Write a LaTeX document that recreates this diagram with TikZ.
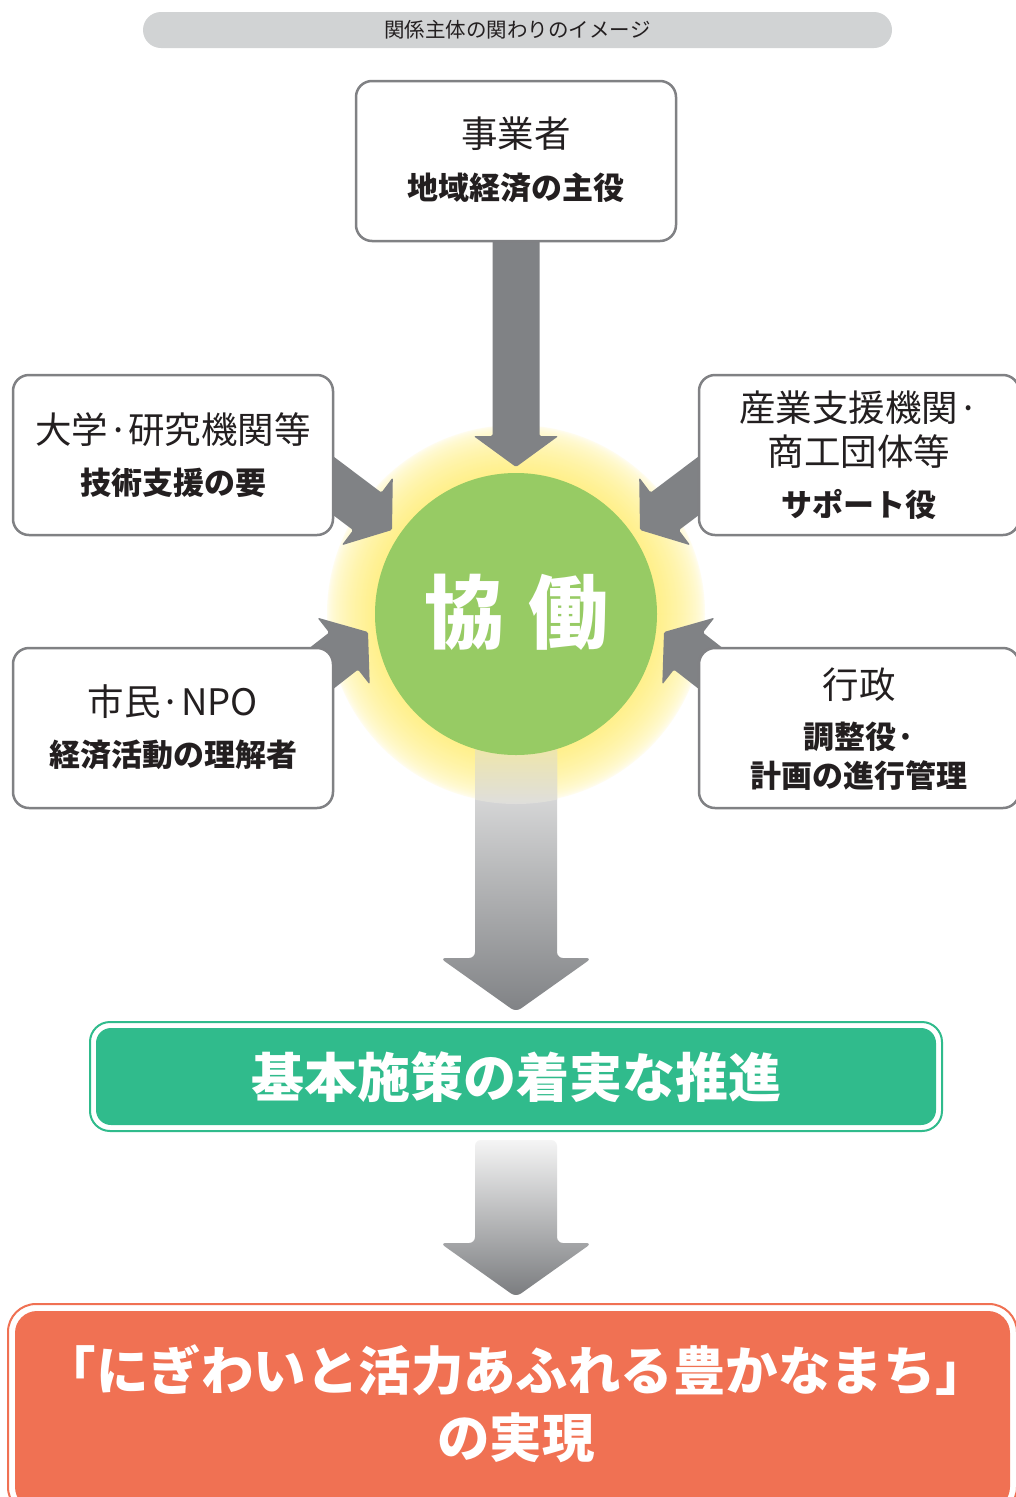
\documentclass[tikz,border=0pt]{standalone}
\usepackage{fontspec}
\setmainfont{Noto Sans CJK JP}
\usepackage{tikz}
\definecolor{txt}{HTML}{231F20}
\definecolor{boxgray}{HTML}{808184}
\definecolor{arrgray}{HTML}{808285}
\definecolor{pillgray}{HTML}{D1D3D4}
\definecolor{cgreen}{HTML}{97CB64}
\definecolor{glowy}{HTML}{FFF08C}
\definecolor{shafttint}{HTML}{EFE6A8}
\definecolor{bgreen}{HTML}{30BB8C}
\definecolor{borange}{HTML}{F07153}
\newcommand\blockarrow[3]{%
  \fill[arrgray, rounded corners=1.5pt, shift={(#1)}, rotate=#2] (0,0) -- (-31,42.5) -- (-31,23.5) -- (-#3,23.5) -- (-#3,-23.5) -- (-31,-23.5) -- (-31,-42.5) -- cycle;}
\begin{document}
\begin{tikzpicture}[x=1pt,y=-1pt,
  gbox/.style={draw=boxgray, line width=2.5pt, fill=white, rounded corners=16pt, minimum width=320pt, minimum height=160pt, inner sep=0pt},
  lt/.style={text=txt, inner sep=0pt, font=\fontsize{36.5}{44}\selectfont},
  bt/.style={text=txt, inner sep=0pt, font=\fontsize{31}{37}\selectfont\bfseries}]
\useasboundingbox (0,0) rectangle (1015,1497);
\fill[white] (0,0) rectangle (1015,1497);

% title pill
\node[fill=pillgray, rounded corners=18pt, minimum width=749pt, minimum height=36pt, inner sep=0pt, text=txt, font=\fontsize{20.5}{24}\selectfont] (title) at (517.5,30) {関係主体の関わりのイメージ};

% glow (stepped radial gradient)
\coordinate (gc) at (516,614);
\foreach \i in {0,...,48} {%
  \pgfmathsetmacro\r{190-\i}\pgfmathsetmacro\p{100*sqrt(\i/48)}%
  \fill[glowy!\p!white] (gc) circle (\r);}

% lower shaded arrow from the circle
\shade[top color=black!8, middle color=black!26, bottom color=arrgray, rounded corners=6pt]
  (475,745) -- (557,745) -- (557,958) -- (592,958) -- (516,1012) -- (440,958) -- (475,958) -- cycle;
% glow tint over the top of the shaft
\begin{scope}
  \clip (gc) circle (190);
  \shade[top color=shafttint, bottom color=black!13] (475,745) rectangle (557,806);
\end{scope}

% tips of the converging arrows
\coordinate (tTop) at (516,467);
\coordinate (tUL) at (392,530);
\coordinate (tLL) at (368,632);
\coordinate (tUR) at (640,530);
\coordinate (tLR) at (664,632);
\blockarrow{tTop}{-90}{240}
\blockarrow{tUL}{-37}{110}
\blockarrow{tLL}{38}{110}
\blockarrow{tUR}{-143}{110}
\blockarrow{tLR}{142}{110}

% actor boxes
\node[gbox] (jigyo) at (516,161) {};
\node[lt] (jigyoA) at (516,134) {事業者};
\node[bt] (jigyoB) at (516,188) {地域経済の主役};

\node[gbox] (daigaku) at (173,455) {};
\node[lt] (daigakuA) at (173,430) {大学·研究機関等};
\node[bt] (daigakuB) at (173,483) {技術支援の要};

\node[gbox] (shimin) at (173,728) {};
\node[lt] (shiminA) at (173,702) {市民·NPO};
\node[bt] (shiminB) at (173,755) {経済活動の理解者};

\node[gbox] (sangyo) at (859,455) {};
\node[lt] (sangyoA) at (859,408) {産業支援機関·};
\node[lt] (sangyoB) at (859,452) {商工団体等};
\node[bt] (sangyoC) at (859,504) {サポート役};

\node[gbox] (gyosei) at (859,728) {};
\node[lt] (gyoseiA) at (859,685) {行政};
\node[bt] (gyoseiB) at (859,737) {調整役·};
\node[bt] (gyoseiC) at (859,776) {計画の進行管理};

% central circle
\node[circle, fill=cgreen, minimum size=282pt, inner sep=0pt] (kyodo) at (gc) {};
\node[text=white, inner sep=0pt, font=\fontsize{80}{90}\selectfont\bfseries] (kyodoT) at (516,612) {協\hspace{24pt}働};

% green box
\draw[bgreen, line width=2pt, rounded corners=20pt] (90,1022) rectangle (942,1131);
\node[fill=bgreen, rounded corners=15pt, minimum width=840pt, minimum height=97pt, inner sep=0pt] (shisaku) at (516,1076.5) {};
\node[text=white, inner sep=0pt, font=\fontsize{53}{60}\selectfont\bfseries] (shisakuT) at (516,1077) {基本施策の着実な推進};

% second shaded arrow
\shade[top color=black!4, middle color=black!55, bottom color=arrgray!95!black, rounded corners=6pt]
  (475,1140) -- (557,1140) -- (557,1243) -- (592,1243) -- (516,1297) -- (440,1243) -- (475,1243) -- cycle;

% orange goal box
\draw[borange, line width=2pt, rounded corners=28pt] (8,1304) rectangle (1017,1515);
\node[fill=borange, rounded corners=22pt, minimum width=995pt, minimum height=198pt, inner sep=0pt] (goal) at (512.5,1410) {};
\node[text=white, inner sep=0pt, font=\fontsize{52.5}{60}\selectfont\bfseries] (goalA) at (516,1370) {「にぎわいと活力あふれる豊かなまち」};
\node[text=white, inner sep=0pt, font=\fontsize{52.5}{60}\selectfont\bfseries] (goalB) at (516,1438) {の実現};
\end{tikzpicture}
\end{document}
